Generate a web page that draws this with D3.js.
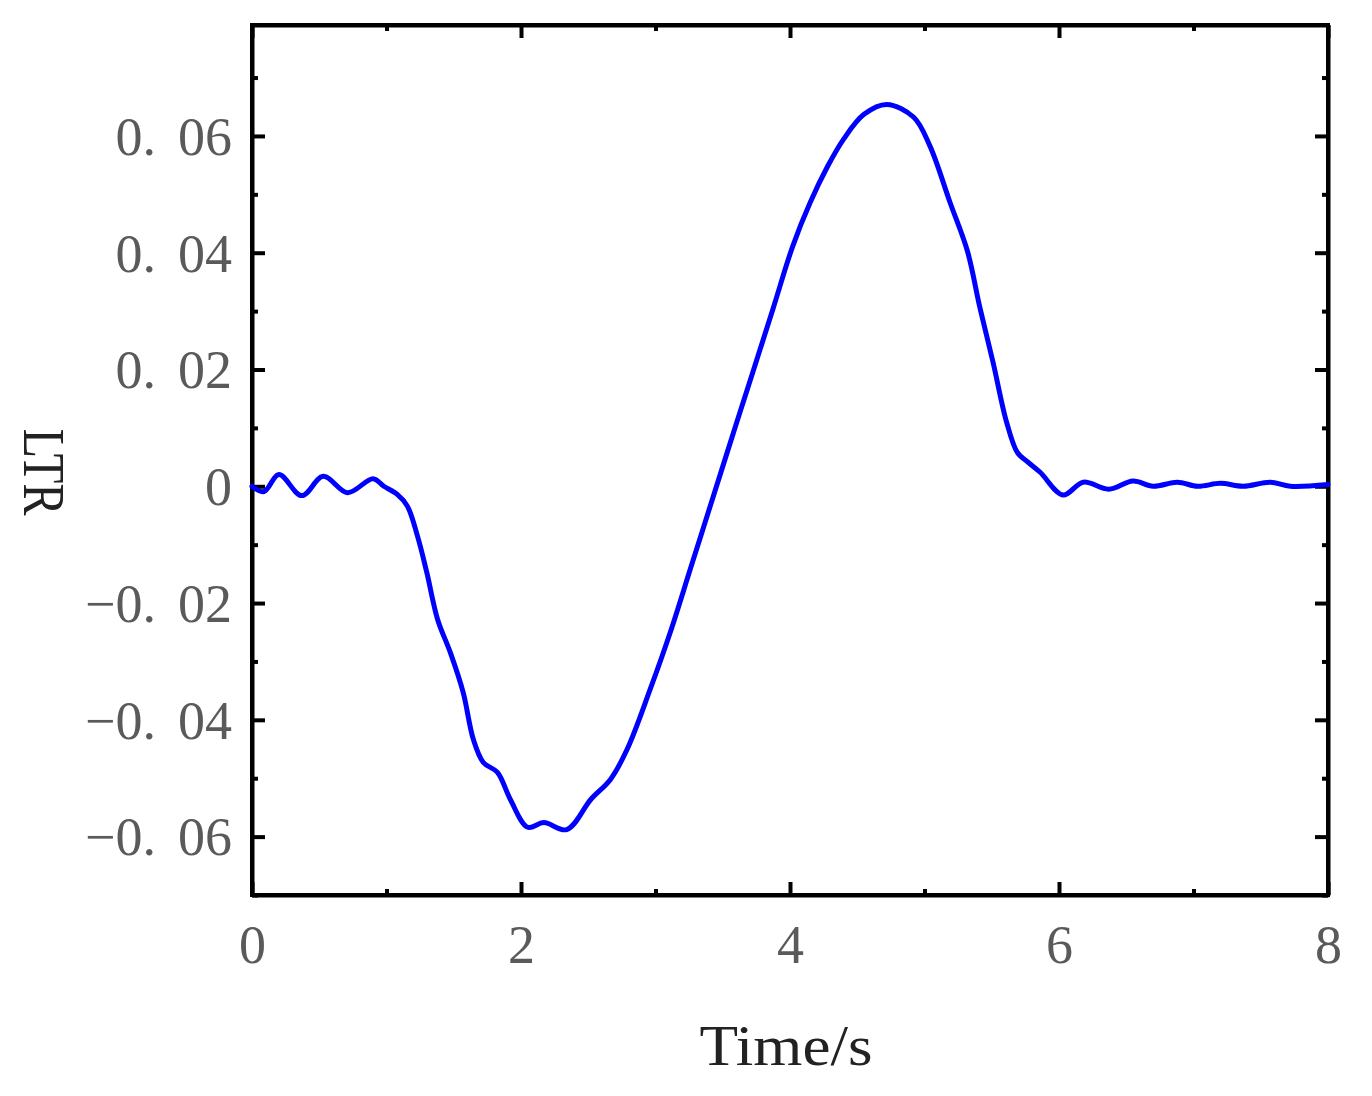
<!DOCTYPE html>
<html>
<head>
<meta charset="utf-8">
<script src="https://cdn.jsdelivr.net/npm/d3@7"></script>
<style>
  html, body { margin: 0; padding: 0; background: #fff; }
  svg { display: block; }
</style>
</head>
<body>
<svg id="chart" width="1372" height="1096"></svg>
<script>
// ---- data ----
const timeValues = [0, 0.09, 0.2, 0.37, 0.53, 0.71, 0.9, 0.98, 1.08, 1.155, 1.23, 1.30, 1.38, 1.475, 1.57, 1.645, 1.72, 1.825, 1.92, 2.05, 2.17, 2.34, 2.52, 2.665, 2.79, 2.96, 3.11, 3.26, 3.43, 3.58, 3.73, 3.875, 4.02, 4.15, 4.28, 4.40, 4.55, 4.72, 4.92, 5.04, 5.19, 5.32, 5.41, 5.51, 5.61, 5.69, 5.76, 5.86, 6.03, 6.18, 6.37, 6.55, 6.7, 6.88, 7.03, 7.2, 7.37, 7.57, 7.72, 8];
const ltrValues = [0, -0.0009, 0.002, -0.0016, 0.0017, -0.0011, 0.0013, 0.0, -0.0014, -0.0034, -0.0085, -0.0148, -0.0228, -0.0285, -0.0353, -0.0433, -0.0473, -0.049, -0.0536, -0.0584, -0.0576, -0.0588, -0.0536, -0.0502, -0.045, -0.0348, -0.025, -0.0141, -0.0017, 0.0092, 0.020, 0.0305, 0.0411, 0.0486, 0.0548, 0.0595, 0.0637, 0.0654, 0.0632, 0.0583, 0.0486, 0.0402, 0.0308, 0.0212, 0.011, 0.0058, 0.0043, 0.0024, -0.0015, 0.0007, -0.0005, 0.0009, 0, 0.0007, 0, 0.0005, 0, 0.0007, 0, 0.0003];
const xMajorTicks = [0, 2, 4, 6, 8];
const xMinorTicks = [1, 3, 5, 7];
const yMajorTicks = [-0.06, -0.04, -0.02, 0, 0.02, 0.04, 0.06];
const yMinorTicks = [-0.07, -0.05, -0.03, -0.01, 0.01, 0.03, 0.05, 0.07];
const xTitle = "Time/s";
const yTitle = "LTR";

// ---- layout ----
const svg = d3.select("#chart");
const pLeft = 252, pRight = 1328, pTop = 25, pBottom = 895;

const x = d3.scaleLinear().domain([0, 8]).range([pLeft, pRight]);
const y = d3.scaleLinear().domain([-0.07, 0.079]).range([pBottom, pTop]);

const labelFont = "'Liberation Serif', 'DejaVu Serif', serif";
const majorLen = 13, minorLen = 6;

function styleAxis(g) {
  g.selectAll("path.domain").attr("stroke", "#000").attr("stroke-width", 4);
  g.selectAll(".tick line").attr("stroke", "#000").attr("stroke-width", 4);
}

// minor ticks (all sides)
svg.append("g").attr("transform", `translate(0,${pBottom})`)
  .call(d3.axisBottom(x).tickValues(xMinorTicks).tickSize(-minorLen).tickFormat(""))
  .call(g => g.select(".domain").remove()).call(styleAxis);
svg.append("g").attr("transform", `translate(0,${pTop})`)
  .call(d3.axisTop(x).tickValues(xMinorTicks).tickSize(-minorLen).tickFormat(""))
  .call(g => g.select(".domain").remove()).call(styleAxis);
svg.append("g").attr("transform", `translate(${pLeft},0)`)
  .call(d3.axisLeft(y).tickValues(yMinorTicks).tickSize(-minorLen).tickFormat(""))
  .call(g => g.select(".domain").remove()).call(styleAxis);
svg.append("g").attr("transform", `translate(${pRight},0)`)
  .call(d3.axisRight(y).tickValues(yMinorTicks).tickSize(-minorLen).tickFormat(""))
  .call(g => g.select(".domain").remove()).call(styleAxis);

// major axes
const xBottom = svg.append("g").attr("transform", `translate(0,${pBottom})`)
  .call(d3.axisBottom(x).tickValues(xMajorTicks).tickSizeInner(-majorLen).tickSizeOuter(0).tickPadding(30).tickFormat(d3.format("d")))
  .call(styleAxis);
svg.append("g").attr("transform", `translate(0,${pTop})`)
  .call(d3.axisTop(x).tickValues(xMajorTicks).tickSizeInner(-majorLen).tickSizeOuter(0).tickFormat(""))
  .call(styleAxis);
const yLeft = svg.append("g").attr("transform", `translate(${pLeft},0)`)
  .call(d3.axisLeft(y).tickValues(yMajorTicks).tickSizeInner(-majorLen).tickSizeOuter(0).tickPadding(20).tickFormat(d => d === 0 ? "0" : d3.format(".2f")(d).replace("-", "\u2212")))
  .call(styleAxis);
svg.append("g").attr("transform", `translate(${pRight},0)`)
  .call(d3.axisRight(y).tickValues(yMajorTicks).tickSizeInner(-majorLen).tickSizeOuter(0).tickFormat(""))
  .call(styleAxis);

// tick label styling
xBottom.selectAll(".tick text")
  .attr("font-family", labelFont).attr("font-size", 54).attr("fill", "#5a5a5a");
yLeft.selectAll(".tick text")
  .attr("font-family", labelFont).attr("font-size", 54).attr("fill", "#5a5a5a")
  .attr("dy", "0.34em")
  .each(function () {
    const t = d3.select(this);
    const s = t.text();
    const i = s.indexOf(".");
    if (i >= 0) {
      t.text(null);
      t.append("tspan").text(s.slice(0, i + 1));
      t.append("tspan").attr("dx", 22).text(s.slice(i + 1));
    }
  });

// frame
svg.append("rect")
  .attr("x", pLeft).attr("y", pTop)
  .attr("width", pRight - pLeft).attr("height", pBottom - pTop)
  .attr("fill", "none").attr("stroke", "#000").attr("stroke-width", 4);

// line
const line = d3.line()
  .x((d, i) => x(timeValues[i]))
  .y((d, i) => y(ltrValues[i]))
  .curve(d3.curveCatmullRom.alpha(0.5));

svg.append("path")
  .datum(ltrValues)
  .attr("d", line)
  .attr("fill", "none")
  .attr("stroke", "#0000ff")
  .attr("stroke-width", 5)
  .attr("stroke-linejoin", "round")
  .attr("stroke-linecap", "round");

// titles
svg.append("text")
  .attr("x", (pLeft + pRight) / 2 - 4).attr("y", 1065)
  .attr("text-anchor", "middle")
  .attr("font-family", labelFont).attr("font-size", 58)
  .attr("textLength", 173).attr("lengthAdjust", "spacingAndGlyphs")
  .attr("fill", "#222")
  .text(xTitle);

svg.append("text")
  .attr("transform", `translate(24,472) rotate(90)`)
  .attr("text-anchor", "middle")
  .attr("font-family", labelFont).attr("font-size", 60)
  .attr("textLength", 87).attr("lengthAdjust", "spacingAndGlyphs")
  .attr("fill", "#222")
  .text(yTitle);
</script>
</body>
</html>
